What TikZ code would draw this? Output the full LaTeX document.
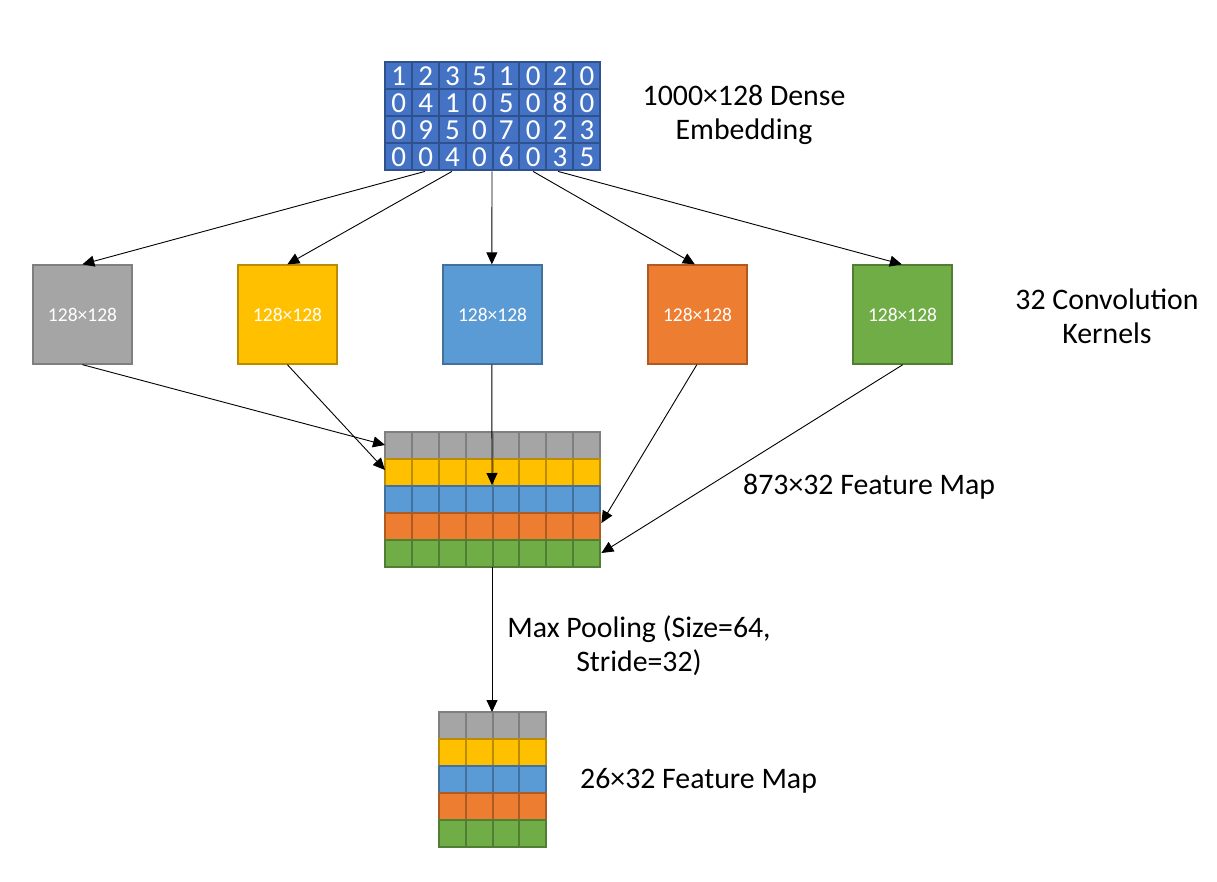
\documentclass[tikz,border=0pt]{standalone}
\usepackage{fontspec}
\setmainfont{Carlito}
\usetikzlibrary{arrows.meta,calc}
\definecolor{embfill}{HTML}{4472C4}
\definecolor{embline}{HTML}{2F528F}
\definecolor{grayfill}{HTML}{A5A5A5}
\definecolor{grayline}{HTML}{7F7F7F}
\definecolor{yelfill}{HTML}{FFC000}
\definecolor{yelline}{HTML}{BC8C00}
\definecolor{bluefill}{HTML}{5B9BD5}
\definecolor{blueline}{HTML}{41719C}
\definecolor{orgfill}{HTML}{ED7D31}
\definecolor{orgline}{HTML}{AE5A21}
\definecolor{grnfill}{HTML}{70AD47}
\definecolor{grnline}{HTML}{507E32}
\tikzset{
  kern/.style={minimum width=99pt,minimum height=99pt,line width=1.3pt,inner sep=0pt,text=white,font=\fontsize{19.5}{23}\selectfont},
  conn/.style={-{Triangle[length=12pt,width=11pt]},line width=0.9pt,black},
  lbl/.style={font=\fontsize{29.8}{34}\selectfont,align=center,text=black,inner sep=0pt},
  digit/.style={text=white,font=\fontsize{29}{30}\selectfont,inner sep=0pt,text height=18pt,text depth=0pt,text width=14pt,align=center},
  cell/.style={line width=2pt},
  region/.style={inner sep=0pt,draw=none}
}
\begin{document}
\begin{tikzpicture}[x=1pt,y=-1pt]
\useasboundingbox (0,0) rectangle (1217,882);
% embedding matrix
\fill[embfill] (385,62) rectangle (600,170);
\foreach \r/\vals in {0/{1,2,3,5,1,0,2,0},1/{0,4,1,0,5,0,8,0},2/{0,9,5,0,7,0,2,3},3/{0,0,4,0,6,0,3,5}}{
  \foreach \v [count=\c from 0] in \vals {
    \draw[embline,line width=2pt] ({385+\c*26.875},{62+\r*27}) rectangle ({385+(\c+1)*26.875},{62+(\r+1)*27});
    \node[digit] at ({385+(\c+0.5)*26.875},{62+(\r+0.5)*27+1}) {\v};
  }
}
\node[region,minimum width=215pt,minimum height=108pt,anchor=north west] (emb) at (385,62) {};
\node[lbl] (embl) at (744,115) {1000×128 Dense\\Embedding};
% kernels
\node[kern,fill=grayfill,draw=grayline] (k1) at (82.5,314.5) {128×128};
\node[kern,fill=yelfill,draw=yelline] (k2) at (287.5,314.5) {128×128};
\node[kern,fill=bluefill,draw=blueline] (k3) at (492.5,314.5) {128×128};
\node[kern,fill=orgfill,draw=orgline] (k4) at (697.5,314.5) {128×128};
\node[kern,fill=grnfill,draw=grnline] (k5) at (902.5,314.5) {128×128};
\node[lbl] (kl) at (1107,316) {32 Convolution\\Kernels};
% feature map 873x32
\foreach \r/\f/\l in {0/grayfill/grayline,1/yelfill/yelline,2/bluefill/blueline,3/orgfill/orgline,4/grnfill/grnline}{
  \foreach \c in {0,...,7}{
    \draw[cell,fill=\f,draw=\l] ({385+\c*26.875},{432+\r*27}) rectangle ({385+(\c+1)*26.875},{432+(\r+1)*27});
  }
}
\node[region,minimum width=215pt,minimum height=135pt,anchor=north west] (fm) at (385,432) {};
\node[lbl,anchor=west] (fml) at (743,487) {873×32 Feature Map};
% small feature map 26x32
\foreach \r/\f/\l in {0/grayfill/grayline,1/yelfill/yelline,2/bluefill/blueline,3/orgfill/orgline,4/grnfill/grnline}{
  \foreach \c in {0,...,3}{
    \draw[cell,fill=\f,draw=\l] ({439+\c*26.75},{712+\r*27}) rectangle ({439+(\c+1)*26.75},{712+(\r+1)*27});
  }
}
\node[region,minimum width=107pt,minimum height=135pt,anchor=north west] (sm) at (439,712) {};
\node[lbl,anchor=west] (sml) at (580,781) {26×32 Feature Map};
\node[lbl] (mpl) at (639,646) {Max Pooling (Size=64,\\Stride=32)};
% connectors embedding -> kernels
\draw[conn] ($(emb.south west)+(40,1)$) -- ($(k1.north west)+(50,0)$);
\draw[conn] ($(emb.south west)+(67,1)$) -- ($(k2.north west)+(50,0)$);
\draw[conn] ($(emb.south west)+(107,1)$) -- ($(k3.north west)+(49.5,0)$);
\draw[conn] ($(emb.south west)+(148,1)$) -- ($(k4.north west)+(47.5,0)$);
\draw[conn] ($(emb.south west)+(173,1)$) -- ($(k5.north west)+(49.5,0)$);
% kernels -> feature map
\draw[conn] ($(k1.south west)+(50,0)$) -- ($(fm.north west)+(0,13)$);
\draw[conn] ($(k2.south west)+(50,0)$) -- ($(fm.north west)+(0,38)$);
\draw[conn] ($(k3.south west)+(49.5,0)$) -- ($(fm.north west)+(107,53)$);
\draw[conn] ($(k4.south west)+(49.5,0)$) -- ($(fm.north east)+(1,91)$);
\draw[conn] ($(k5.south west)+(50.5,0)$) -- ($(fm.north east)+(1,121)$);
% pooling
\draw[conn] ($(fm.south west)+(107,0)$) -- ($(sm.north west)+(53,0)$);
\end{tikzpicture}
\end{document}
